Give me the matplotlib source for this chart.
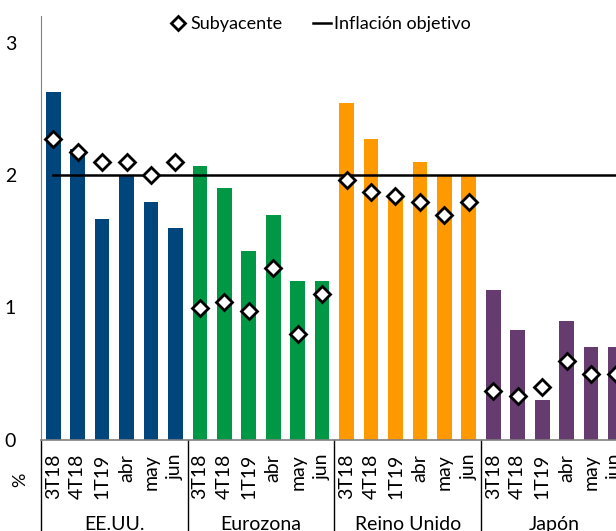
import numpy as np
import matplotlib.pyplot as plt
from matplotlib.lines import Line2D
import matplotlib.transforms as mtransforms

plt.rcParams['font.family'] = ['Lato', 'DejaVu Sans']

# Inflación general (barras) y subyacente (rombos), % interanual
groups = ["EE.UU.", "Eurozona", "Reino Unido", "Japón"]
periods = ["3T18", "4T18", "1T19", "abr", "may", "jun"]
colors = ["#00457c", "#009845", "#ff9900", "#663b70"]

general = [
    [2.63, 2.20, 1.67, 2.00, 1.80, 1.60],   # EE.UU.
    [2.07, 1.90, 1.43, 1.70, 1.20, 1.20],   # Eurozona
    [2.54, 2.27, 1.86, 2.10, 2.00, 2.00],   # Reino Unido
    [1.13, 0.83, 0.30, 0.90, 0.70, 0.70],   # Japón
]
core = [
    [2.27, 2.17, 2.10, 2.10, 2.00, 2.10],
    [1.00, 1.04, 0.97, 1.30, 0.80, 1.10],
    [1.96, 1.87, 1.84, 1.80, 1.70, 1.80],
    [0.37, 0.33, 0.40, 0.60, 0.50, 0.50],
]
target = 2.0

fig = plt.figure(figsize=(6.16, 5.31), dpi=100)
ax = fig.add_axes([41 / 616, 91 / 531, 1 - 41 / 616, 424 / 531])

n = len(periods)
labels = []
for g, (vals, cvals, col) in enumerate(zip(general, core, colors)):
    x = np.arange(n) + g * n
    ax.bar(x, vals, width=0.6, color=col, zorder=2)
    ax.plot(x, cvals, linestyle="none", marker="D", markersize=8,
            markerfacecolor="white", markeredgecolor="black",
            markeredgewidth=2, zorder=4)
    labels += periods

xs = np.arange(len(labels))
ax.plot([xs[0], xs[-1] + 2], [target, target], color="black", lw=1.8, zorder=3)

ax.set_xlim(-0.5, 23.02)
ax.set_ylim(0, 3.2)
ax.set_yticks([0, 1, 2, 3])
ax.set_xticks(xs)
ax.set_xticklabels(labels, rotation=90, va="top", ha="center", fontsize=14)
ax.tick_params(axis="x", length=0, pad=10)
ax.tick_params(axis="y", length=0, pad=18, labelsize=14)

for side in ("top", "right"):
    ax.spines[side].set_visible(False)
ax.spines["left"].set_color("#808080")
ax.spines["bottom"].set_color("#808080")
ax.spines["bottom"].set_linewidth(1.2)

# separadores de grupo y etiquetas de país bajo el eje
trans = mtransforms.blended_transform_factory(ax.transData, ax.transAxes)
for g, name in enumerate(groups):
    left = g * n - 0.5
    ax.add_line(Line2D([left, left], [0, -0.3], transform=trans,
                       color="black", lw=1, clip_on=False))
    ax.text(left + n / 2, -0.2, name, transform=trans, ha="center",
            va="center", fontsize=14)

fig.text(20 / 616, 1 - 480 / 531, "%", rotation=90, ha="center",
         va="center", fontsize=13)

handles = [
    Line2D([], [], linestyle="none", marker="D", markersize=7,
           markerfacecolor="white", markeredgecolor="black",
           markeredgewidth=2),
    Line2D([], [], color="black", lw=1.8),
]
fig.legend(handles, ["Subyacente", "Inflación objetivo"], loc="center",
           bbox_to_anchor=(320 / 616, 1 - 24 / 531), ncol=2, frameon=False,
           fontsize=13, handlelength=1.0, handletextpad=0.15,
           columnspacing=1.7)

fig.savefig("out.png", dpi=100)
